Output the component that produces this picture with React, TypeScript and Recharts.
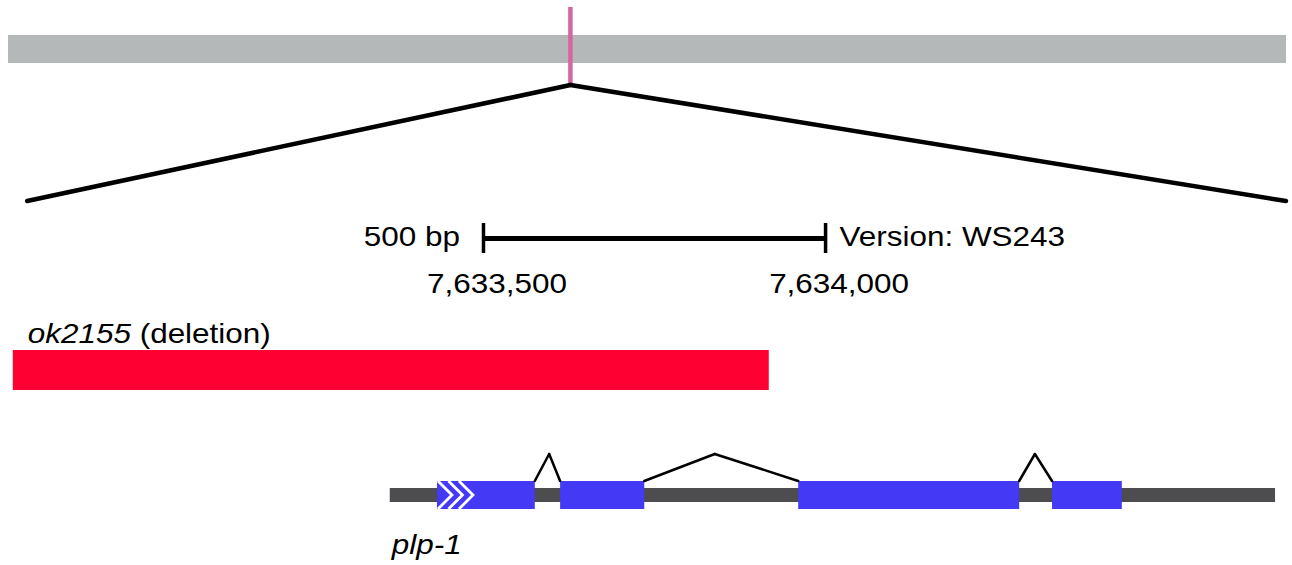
import { ComposedChart, ReferenceArea, ReferenceDot, ReferenceLine, Scatter, XAxis, YAxis } from "recharts";

// genomic coordinates (bp)
const viewDomain = [7632805, 7634673];
const zoomWindow = [7632833, 7634673];
const scaleBar = [7633500, 7634000];
const chromosomeLength = 17347000;
const locus = 7634000;

const deletion = { name: "ok2155", kind: "deletion", start: 7632812, end: 7633917 };
const gene = { name: "plp-1", start: 7633363, end: 7634657 };
const exonStarts = [7633432, 7633612, 7633960, 7634331];
const exonEnds = [7633575, 7633735, 7634283, 7634433];
const intronPeaks = [7633596, 7633838, 7634306];
const buildLabel = "Version: WS243";

// vertical layout of the tracks
const ROW = {
  markerTop: 7, markerBottom: 83, chromTop: 35, chromBottom: 63,
  wedgeTop: 85, wedgeBottom: 201,
  scaleBar: 238.5, scaleTickTop: 223, scaleTickBottom: 253, scaleText: 246, coordText: 293,
  deletionText: 343, deletionTop: 350, deletionBottom: 390,
  intronApex: 454, exonTop: 481, exonBottom: 509, utrTop: 488, utrBottom: 502, geneText: 554,
};

const FONT = "'Liberation Sans', Arial, sans-serif";
const STRETCH = 1.165;

const toChrom = (v: number) =>
  ((v - viewDomain[0]) / (viewDomain[1] - viewDomain[0])) * chromosomeLength;

const fmt = (v: number) => v.toLocaleString("en-US");

function textShape(content: React.ReactNode, anchor: "start" | "middle" | "end", dx = 0) {
  return (p: any) => (
    <text
      transform={`translate(${p.cx + dx},${p.cy}) scale(${STRETCH},1)`}
      textAnchor={anchor}
      fontFamily={FONT}
      fontSize={27}
      fill="#000"
    >
      {content}
    </text>
  );
}

function FirstExon(p: any) {
  const { x, y, width, height } = p;
  const chevrons = [0, 1, 2].map((i) => {
    const x0 = x + 1 + i * 10.5;
    return `${x0},${y} ${x0 + 14},${y + height / 2} ${x0},${y + height}`;
  });
  return (
    <g>
      <rect x={x} y={y} width={width} height={height} fill="#443af5" />
      {chevrons.map((pts, i) => (
        <polyline key={i} points={pts} fill="none" stroke="#fff" strokeWidth={2.8} />
      ))}
    </g>
  );
}

const bpAnchors = [
  { x: gene.start, y: ROW.exonTop },
  { x: gene.end, y: ROW.exonBottom },
];
const chrAnchors = [
  { x: 0, y: ROW.chromTop },
  { x: chromosomeLength, y: ROW.chromBottom },
];

export default function App() {
  const introns = exonEnds.slice(0, -1).map((end, i) => ({ end, next: exonStarts[i + 1], peak: intronPeaks[i] }));
  const ax = { xAxisId: "bp", yAxisId: "row", ifOverflow: "visible" as const };
  const chr = { xAxisId: "chr", yAxisId: "row", ifOverflow: "visible" as const };

  return (
    <div style={{ position: "fixed", left: 0, top: 0, background: "#fff" }}>
      <ComposedChart width={1292} height={565} margin={{ top: 0, right: 6, bottom: 0, left: 8 }}>
        <XAxis xAxisId="bp" dataKey="x" type="number" domain={viewDomain} allowDataOverflow hide />
        <XAxis xAxisId="chr" dataKey="x" type="number" domain={[0, chromosomeLength]} allowDataOverflow hide />
        <YAxis yAxisId="row" dataKey="y" type="number" domain={[0, 565]} reversed allowDataOverflow hide />

        <Scatter xAxisId="bp" yAxisId="row" data={bpAnchors} dataKey="y" shape={() => <g />} isAnimationActive={false} />
        <Scatter xAxisId="chr" yAxisId="row" data={chrAnchors} dataKey="y" shape={() => <g />} isAnimationActive={false} />

        {/* chromosome overview */}
        <ReferenceArea {...chr} x1={0} x2={chromosomeLength} y1={ROW.chromTop} y2={ROW.chromBottom}
          fill="#b5b8b9" fillOpacity={1} stroke="none" />
        <ReferenceLine {...chr} segment={[{ x: locus, y: ROW.markerTop }, { x: locus, y: ROW.markerBottom }]}
          stroke="#d6679e" strokeWidth={4.5} />
        <ReferenceLine {...chr} segment={[{ x: locus, y: ROW.wedgeTop }, { x: toChrom(zoomWindow[0]), y: ROW.wedgeBottom }]}
          stroke="#000" strokeWidth={4.5} strokeLinecap="round" />
        <ReferenceLine {...chr} segment={[{ x: locus, y: ROW.wedgeTop }, { x: toChrom(zoomWindow[1]), y: ROW.wedgeBottom }]}
          stroke="#000" strokeWidth={4.5} strokeLinecap="round" />

        {/* scale bar */}
        <ReferenceLine {...ax} segment={[{ x: scaleBar[0], y: ROW.scaleBar }, { x: scaleBar[1], y: ROW.scaleBar }]}
          stroke="#000" strokeWidth={5} />
        {scaleBar.map((v) => (
          <ReferenceLine key={v} {...ax} segment={[{ x: v, y: ROW.scaleTickTop }, { x: v, y: ROW.scaleTickBottom }]}
            stroke="#000" strokeWidth={3.5} />
        ))}
        <ReferenceDot {...ax} x={scaleBar[0]} y={ROW.scaleText} r={0} shape={textShape(`${scaleBar[1] - scaleBar[0]} bp`, "end", -23.5)} />
        <ReferenceDot {...ax} x={scaleBar[1]} y={ROW.scaleText} r={0} shape={textShape(buildLabel, "start", 14)} />
        {scaleBar.map((v) => (
          <ReferenceDot key={`c${v}`} {...ax} x={v} y={ROW.coordText} r={0} shape={textShape(fmt(v), "middle", 13.5)} />
        ))}

        {/* deletion allele */}
        <ReferenceArea {...ax} x1={deletion.start} x2={deletion.end} y1={ROW.deletionTop} y2={ROW.deletionBottom}
          fill="#ff0033" fillOpacity={1} stroke="none" />
        <ReferenceDot {...ax} x={deletion.start} y={ROW.deletionText} r={0}
          shape={textShape(<><tspan fontStyle="italic">{deletion.name}</tspan><tspan>{` (${deletion.kind})`}</tspan></>, "start", 15)} />

        {/* gene model */}
        <ReferenceArea {...ax} x1={gene.start} x2={gene.end} y1={ROW.utrTop} y2={ROW.utrBottom}
          fill="#4d4c4e" fillOpacity={1} stroke="none" />
        {exonStarts.map((s, i) => (
          <ReferenceArea key={s} {...ax} x1={s} x2={exonEnds[i]} y1={ROW.exonTop} y2={ROW.exonBottom}
            fill="#443af5" fillOpacity={1} stroke="none" shape={i === 0 ? FirstExon : undefined} />
        ))}
        {introns.map((n) => [
          <ReferenceLine key={`a${n.end}`} {...ax} segment={[{ x: n.end, y: ROW.exonTop }, { x: n.peak, y: ROW.intronApex }]}
            stroke="#000" strokeWidth={2.5} strokeLinecap="round" />,
          <ReferenceLine key={`b${n.end}`} {...ax} segment={[{ x: n.peak, y: ROW.intronApex }, { x: n.next, y: ROW.exonTop }]}
            stroke="#000" strokeWidth={2.5} strokeLinecap="round" />,
        ])}
        <ReferenceDot {...ax} x={gene.start} y={ROW.geneText} r={0}
          shape={textShape(<tspan fontStyle="italic">{gene.name}</tspan>, "start", 2)} />
      </ComposedChart>
    </div>
  );
}
